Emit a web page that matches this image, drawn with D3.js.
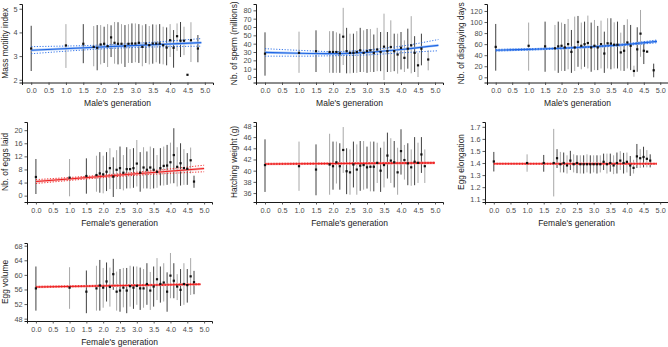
<!DOCTYPE html>
<html><head><meta charset="utf-8">
<script src="https://cdn.jsdelivr.net/npm/d3@7"></script>
<style>body{margin:0;background:#fff}svg{display:block}</style>
</head><body><svg id="c" width="668" height="347"></svg>
<script>
// ---------- data ----------
const xTicks = [0,0.5,1,1.5,2,2.5,3,3.5,4,4.5,5];

const motGen  = [0,1,1.5,1.8,1.9,2.0,2.1,2.2,2.3,2.4,2.5,2.6,2.7,2.8,2.9,3.0,3.1,3.2,3.3,3.4,3.5,3.6,3.7,3.8,3.9,4.0,4.1,4.2,4.3,4.4,4.5,4.6,4.8];
const motMean = [3.32,3.45,3.52,3.39,3.35,3.49,3.52,3.42,3.79,3.56,3.52,3.52,3.42,3.52,3.53,3.53,3.56,3.39,3.53,3.46,3.53,3.53,3.53,3.46,3.36,3.67,3.35,3.84,3.65,3.65,2.21,3.67,3.32];
const motLo   = [2.37,2.50,2.70,2.57,2.40,2.65,2.71,2.54,2.96,2.68,2.65,2.68,2.54,2.71,2.71,2.74,2.71,2.57,2.71,2.65,2.68,2.74,2.68,2.65,2.61,2.96,2.51,3.22,2.96,3.04,2.21,2.75,2.74];
const motHi   = [4.28,4.35,4.35,4.27,4.31,4.31,4.24,4.35,4.30,4.44,4.43,4.35,4.31,4.35,4.38,4.38,4.35,4.30,4.35,4.27,4.34,4.33,4.35,4.24,4.21,4.35,4.10,4.38,4.44,4.24,2.21,4.43,3.89];
const motTicks = [2,3,4,5];
const motFitX = [0,2.4,4.9], motFit = [3.25,3.41,3.57], motCiLo = [3.10,3.33,3.42], motCiHi = [3.40,3.49,3.74];

const spGen  = [0,1,1.5,1.9,2.0,2.1,2.2,2.3,2.4,2.5,2.6,2.7,2.8,2.9,3.0,3.1,3.2,3.3,3.4,3.5,3.6,3.7,3.8,3.9,4.0,4.1,4.2,4.3,4.4,4.5,4.6,4.8];
const spMean = [28,29,31,30,30,30,28.4,48.4,31,29,29,30,32,29,31,32,29,33,30,36.4,31,36,31,27,35,23,34,38,29,14,34,21];
const spLo   = [1.6,5,6,5,5,5,5,14.4,4.4,4.4,5,5,6,6,5,6,6,7,7,-3.6,6,6,7,4,9,6,10,4.4,6,0,14,8];
const spHi   = [53.6,54.4,56,55,55,53.6,52,83,59,52,52,55,59,56,57.6,57.6,51,59,54,76,54,68,52,52,54,44,58,73,49,29,52,32];
const spTicks = [0,10,20,30,40,50,60,70,80];
const spFitX = [0,1,2,3,4,5.1], spFit = [29.5,28.5,28,29.5,33,38], spCiLo = [25,25,25.5,26.5,29,31.5], spCiHi = [34,32,30.5,32.5,37,45];

const dayGen  = [0,1,1.5,1.8,1.9,2.0,2.1,2.2,2.3,2.4,2.5,2.6,2.7,2.8,2.9,3.0,3.1,3.2,3.3,3.4,3.5,3.6,3.7,3.8,3.9,4.0,4.1,4.2,4.3,4.4,4.5,4.6,4.8];
const dayMean = [55,57,56,52.5,56,57,54,60,46,54,64,57,60,62,54,57,54,60,43,61.5,61,59,59,45,48,63,57,11.5,50.6,79,48,46.4,12.7];
const dayLo   = [12,12,10,12,8,11.5,11.5,14.5,8,11.5,19,14.5,19,16,10,13,13,16,8,16,14.5,16,16,12,11.5,16,13,1,10,37,24,46.4,0];
const dayHi   = [96.5,99,100.7,94.7,100.7,99,96.5,105.5,85.6,109.8,111,99,100.7,111.6,99,103.7,92.9,102.5,82.6,106.8,106.8,99.5,100.7,80.8,94.7,105,94.7,21,90.5,121.8,64.5,46.4,24.7];
const dayTicks = [0,20,40,60,80,100,120];
const dayFitX = [0,1,2,3,4,4.9], dayFit = [49,50.5,52.5,55.5,59.5,65], dayCiLo = [47.5,49.3,51.5,54.5,58,62.5], dayCiHi = [50.5,51.7,53.5,56.5,61,67.5];

const eggGen  = [0,1,1.5,1.8,1.9,2.0,2.1,2.2,2.3,2.4,2.5,2.6,2.7,2.8,2.9,3.0,3.1,3.2,3.3,3.4,3.5,3.6,3.7,3.8,3.9,4.0,4.1,4.2,4.3,4.4,4.5,4.6,4.7];
const eggMean = [5.7,5.5,6.0,6.3,6.8,6.5,7.3,8.4,5.8,7.9,8.4,7.0,8.1,8.1,8.4,9.8,7.0,8.6,7.9,8.6,7.9,7.3,8.4,9.1,9.2,10.2,12.4,8.8,9.9,8.4,8.2,10.8,4.3];
const eggLo   = [0.5,-0.2,0.6,1.2,0.9,0.7,1.4,2.0,-0.4,2.0,2.0,1.6,2.2,2.2,2.4,2.8,1.2,2.2,2.2,2.0,2.2,2.4,3.1,3.1,3.3,3.7,3.8,2.8,3.1,3.3,3.3,6.8,2.4];
const eggHi   = [11.2,11.2,11.4,12.2,13.3,12.2,13.3,14.5,11.7,13.9,15.0,12.4,14.8,14.2,14.5,17,13.3,14.8,13.5,15,14.5,12.4,14.5,15,15.5,16.2,20.6,14.8,16.0,14.2,13.0,14.7,6.1];
const eggTicks = [0,4,8,12,16,20];
const eggFitX = [0,2.5,5.0], eggFit = [4.3,6.3,8.3], eggCiLo = [3.7,5.9,7.3], eggCiHi = [4.9,6.7,9.3];

const hwGen  = [0,1,1.5,1.9,2.0,2.1,2.2,2.3,2.4,2.5,2.6,2.7,2.8,2.9,3.0,3.1,3.2,3.3,3.4,3.5,3.6,3.7,3.8,3.9,4.0,4.1,4.2,4.3,4.4,4.5,4.6,4.7];
const hwMean = [41.0,40.8,40.2,41.1,40.8,41.5,40.8,43.7,39.9,39.7,41.1,40.2,40.9,41.0,40.6,40.7,40.7,41.4,40.0,41.0,42.7,41.8,41.5,39.7,43.5,41.9,41.3,40.6,41.6,41.4,42.9,40.8];
const hwLo   = [36.2,36.4,35.6,35.7,36.6,37.7,36.6,39.6,35.8,35.7,37.0,35.7,36.4,36.6,36.8,36.3,36.3,37.8,36.2,37.0,38.6,37.8,37.0,35.7,39.3,38.4,37.4,37.3,37.4,37.8,39.6,37.8];
const hwHi   = [45.6,45.2,44.7,46.6,45.2,45.2,44.9,47.8,44.0,43.8,45.2,44.7,45.3,45.3,44.3,45.2,45.2,45.0,44.1,45.2,46.8,45.8,45.3,44.1,47.4,44.6,44.9,43.8,46.0,45.0,46.0,43.8];
const hwTicks = [36,38,40,42,44,46,48];
const hwFitX = [0,5.0], hwFit = [41.2,41.4], hwCiLo = [41.1,41.3], hwCiHi = [41.3,41.5];

const elGen  = [0,1,1.5,1.8,1.9,2.0,2.1,2.2,2.3,2.4,2.5,2.6,2.7,2.8,2.9,3.0,3.1,3.2,3.3,3.4,3.5,3.6,3.7,3.8,3.9,4.0,4.1,4.2,4.3,4.4,4.5,4.6,4.7];
const elMean = [1.413,1.40,1.40,1.40,1.44,1.39,1.40,1.38,1.42,1.39,1.40,1.39,1.39,1.39,1.39,1.39,1.39,1.39,1.41,1.39,1.40,1.38,1.40,1.42,1.40,1.41,1.38,1.36,1.455,1.44,1.45,1.435,1.42];
const elLo   = [1.33,1.328,1.328,1.123,1.359,1.322,1.322,1.313,1.342,1.322,1.316,1.313,1.313,1.322,1.313,1.322,1.313,1.322,1.342,1.313,1.328,1.308,1.313,1.342,1.313,1.322,1.293,1.313,1.359,1.359,1.364,1.364,1.364];
const elHi   = [1.492,1.472,1.467,1.683,1.515,1.492,1.487,1.464,1.501,1.472,1.464,1.464,1.464,1.472,1.464,1.464,1.464,1.464,1.478,1.478,1.478,1.464,1.487,1.498,1.484,1.487,1.458,1.427,1.558,1.515,1.535,1.507,1.472];
const elTicks = [1.1,1.2,1.3,1.4,1.5,1.6,1.7];
const elFitX = [0,4.9], elFit = [1.394,1.394], elCiLo = [1.390,1.390], elCiHi = [1.398,1.398];

const volGen  = [0,1,1.5,1.8,1.9,2.0,2.1,2.2,2.3,2.4,2.5,2.6,2.7,2.8,2.9,3.0,3.1,3.2,3.3,3.4,3.5,3.6,3.7,3.8,3.9,4.0,4.1,4.2,4.3,4.4,4.5,4.6,4.7];
const volMean = [56.3,56.5,55.4,56.3,57.1,56.5,58.2,56.7,60.2,55.4,55.7,56.5,55.7,56.9,56.5,57.0,56.3,56.3,57.5,55.7,56.8,58.8,57.5,57.9,55.4,59.8,58.4,56.8,55.9,57.5,57.2,59.6,58.0];
const volLo   = [50.2,50.7,49.5,50.2,50.2,51.0,52.7,51.3,55.9,50.2,49.9,51.1,49.5,51.3,50.7,51.8,50.4,51.0,51.8,50.4,51.3,53.1,52.4,52.7,49.9,53.6,53.6,53.1,51.5,51.8,52.4,54.5,54.7];
const volHi   = [62.3,62.1,61.2,62.5,64.1,61.9,63.4,62.0,64.4,60.9,61.6,61.9,61.9,62.5,62.3,62.3,62.0,61.6,63.2,60.8,62.3,64.6,62.3,63.2,60.7,66.0,63.2,60.2,61.6,63.2,61.6,64.6,61.1];
const volTicks = [48,52,56,60,64,68];
const volFitX = [0,4.9], volFit = [56.7,57.45], volCiLo = [56.55,57.3], volCiHi = [56.85,57.6];

// ---------- layout ----------
const panels = [
  {gen:motGen,mean:motMean,lo:motLo,hi:motHi,ticks:motTicks,fmt:d3.format("d"),fx:motFitX,f:motFit,cl:motCiLo,ch:motCiHi,
   L:22,R:213,T:4,B:82.5,yd:[1.885,5.2],col:"#1f66e5",light:"#9cc0f5",xt:"Male's generation",yt:"Mass motility index",ytx:8},
  {gen:spGen,mean:spMean,lo:spLo,hi:spHi,ticks:spTicks,fmt:d3.format("d"),fx:spFitX,f:spFit,cl:spCiLo,ch:spCiHi,
   L:256,R:443,T:4,B:82.5,yd:[-6.6,87.6],col:"#1f66e5",light:"#9cc0f5",xt:"Male's generation",yt:"Nb. of sperm (millions)",ytx:237},
  {gen:dayGen,mean:dayMean,lo:dayLo,hi:dayHi,ticks:dayTicks,fmt:d3.format("d"),fx:dayFitX,f:dayFit,cl:dayCiLo,ch:dayCiHi,
   L:487,R:668,T:4,B:82.5,yd:[-9.4,132.6],col:"#1f66e5",light:"#9cc0f5",xt:"Male's generation",yt:"Nb. of displaying days",ytx:463.5},
  {gen:eggGen,mean:eggMean,lo:eggLo,hi:eggHi,ticks:eggTicks,fmt:d3.format("d"),fx:eggFitX,f:eggFit,cl:eggCiLo,ch:eggCiHi,
   L:27,R:212,T:122,B:202,yd:[-1.94,22.5],col:"#ee1c1c",light:"#f7a3a3",xt:"Female's generation",yt:"Nb. of eggs laid",ytx:8},
  {gen:hwGen,mean:hwMean,lo:hwLo,hi:hwHi,ticks:hwTicks,fmt:d3.format("d"),fx:hwFitX,f:hwFit,cl:hwCiLo,ch:hwCiHi,
   L:256,R:443,T:122,B:202,yd:[34.4,48.7],col:"#ee1c1c",light:"#f7a3a3",xt:"Female's generation",yt:"Hatching weight (g)",ytx:237},
  {gen:elGen,mean:elMean,lo:elLo,hi:elHi,ticks:elTicks,fmt:d3.format(".1f"),fx:elFitX,f:elFit,cl:elCiLo,ch:elCiHi,
   L:485,R:668,T:122,B:202,yd:[1.077,1.74],col:"#ee1c1c",light:"#f7a3a3",xt:"Female's generation",yt:"Egg elongation",ytx:463.5},
  {gen:volGen,mean:volMean,lo:volLo,hi:volHi,ticks:volTicks,fmt:d3.format("d"),fx:volFitX,f:volFit,cl:volCiLo,ch:volCiHi,
   L:27,R:212,T:243,B:321,yd:[47.36,68.74],col:"#ee1c1c",light:"#f7a3a3",xt:"Female's generation",yt:"Egg volume",ytx:8}
];

const svg = d3.select("#c");
const FONT = "'Liberation Sans', Arial, Helvetica, sans-serif";

panels.forEach(p => {
  const x = d3.scaleLinear().domain([-0.265, 5.235]).range([p.L, p.R]);
  const y = d3.scaleLinear().domain(p.yd).range([p.B, p.T]);
  const g = svg.append("g");

  // error bars
  g.selectAll("line.eb").data(p.gen).join("line")
    .attr("x1", d => x(d)).attr("x2", d => x(d))
    .attr("y1", (d,i) => y(p.lo[i])).attr("y2", (d,i) => y(p.hi[i]))
    .attr("stroke", (d,i) => i % 2 === 0 ? "#404040" : "#a8a8a8")
    .attr("stroke-width", 1);

  // fit: light band line, dotted CI, main line
  const line = d3.line().x(d => x(d[0])).y(d => y(d[1])).curve(d3.curveMonotoneX);
  const fitPts = p.fx.map((v,i) => [v, p.f[i]]);
  g.append("path").attr("d", line(fitPts)).attr("fill","none").attr("stroke",p.light).attr("stroke-width",2.6).attr("opacity",0.8);
  g.append("path").attr("d", line(p.fx.map((v,i)=>[v,p.cl[i]]))).attr("fill","none").attr("stroke",p.col).attr("stroke-width",0.9).attr("stroke-dasharray","1.2,1.6");
  g.append("path").attr("d", line(p.fx.map((v,i)=>[v,p.ch[i]]))).attr("fill","none").attr("stroke",p.col).attr("stroke-width",0.9).attr("stroke-dasharray","1.2,1.6");
  g.append("path").attr("d", line(fitPts)).attr("fill","none").attr("stroke",p.col).attr("stroke-width",1.1);

  // points
  g.selectAll("rect.pt").data(p.gen).join("rect")
    .attr("x", d => x(d) - 1.1).attr("y", (d,i) => y(p.mean[i]) - 1.1)
    .attr("width", 2.2).attr("height", 2.2).attr("fill", "#111");

  // axes
  const xa = g.append("g").attr("transform", `translate(0,${p.B})`)
    .call(d3.axisBottom(x).tickValues(xTicks).tickFormat(d3.format(".1f")).tickSizeOuter(0).tickSize(2.5).tickPadding(3));
  const ya = g.append("g").attr("transform", `translate(${p.L},0)`)
    .call(d3.axisLeft(y).tickValues(p.ticks).tickFormat(p.fmt).tickSizeOuter(0).tickSize(2.5).tickPadding(2));
  [xa, ya].forEach(a => {
    a.select(".domain").attr("stroke","#000").attr("stroke-width",0.9);
    a.selectAll(".tick line").attr("stroke","#333").attr("stroke-width",0.8);
    a.selectAll("text").attr("fill","#4d4d4d").style("font-family",FONT).style("font-size","7.3px");
  });

  g.append("text").attr("x",(p.L+p.R)/2).attr("y",p.B+23.5).attr("text-anchor","middle")
    .style("font-family",FONT).style("font-size","8.5px").attr("fill","#1a1a1a").text(p.xt);
  g.append("text").attr("transform",`translate(${p.ytx},${(p.T+p.B)/2}) rotate(-90)`).attr("text-anchor","middle")
    .style("font-family",FONT).style("font-size","8.4px").attr("fill","#1a1a1a").text(p.yt);
});
</script></body></html>
